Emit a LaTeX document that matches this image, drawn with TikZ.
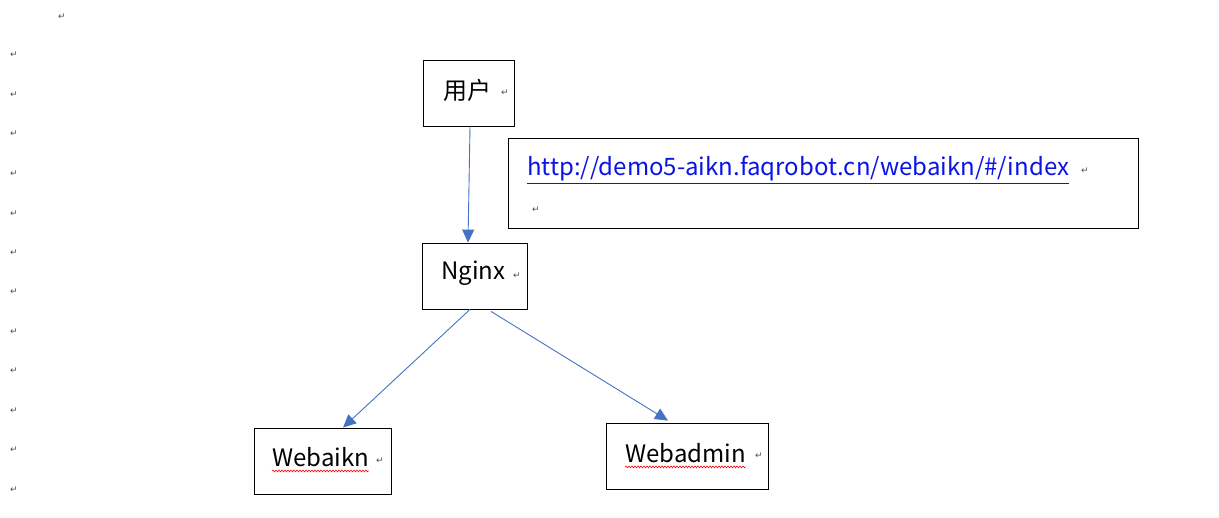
\documentclass[tikz,border=0pt]{standalone}
\usepackage{fontspec}
\setmainfont{Noto Sans CJK SC}
\newfontfamily\symf{DejaVu Sans}
\usetikzlibrary{calc,arrows.meta,decorations.pathmorphing}
\definecolor{arr}{RGB}{68,114,196}
\definecolor{lnk}{RGB}{10,20,230}
\begin{document}
\begin{tikzpicture}[x=1pt,y=-1pt,
  box/.style={draw,line width=0.8pt,inner sep=0pt},
  lab/.style={font=\fontsize{24}{26}\selectfont,inner sep=0pt,anchor=west},
  ret/.style={font=\symf\fontsize{9}{10}\selectfont,text=black!70,inner sep=0pt},
  conn/.style={draw=arr,line width=0.9pt,-{Triangle[length=13pt,width=12pt]}}]
\useasboundingbox (0,0) rectangle (1219,518);
\node[box,minimum width=91pt,minimum height=66pt] (u) at (468.5,93) {};
\node[box,minimum width=630pt,minimum height=90pt] (url) at (823,183) {};
\node[box,minimum width=105pt,minimum height=66pt] (n) at (474.5,276) {};
\node[box,minimum width=137pt,minimum height=66pt] (wk) at (322.5,461) {};
\node[box,minimum width=162pt,minimum height=66pt] (wa) at (687,456) {};
\node[lab] (tu) at (443,90) {用户};
\node[lab,text=lnk] (turl) at (527,170) {\underline{http://demo5-aikn.faqrobot.cn/webaikn/\#/index}};
\node[lab] (tn) at (441,273) {Nginx};
\node[lab] (twk) at (272,457) {Webaikn};
\node[lab] (twa) at (625,453) {Webadmin};
\draw[red,line width=0.6pt,decorate,decoration={snake,amplitude=0.9pt,segment length=3pt}] ($(twk.south west)+(0,4)$) -- ($(twk.south east)+(0,4)$);
\draw[red,line width=0.6pt,decorate,decoration={snake,amplitude=0.9pt,segment length=3pt}] ($(twa.south west)+(0,4)$) -- ($(twa.south east)+(0,4)$);
\draw[conn] ($(u.south)+(1.5,0)$) -- ($(n.north)+(-6.5,0)$);
\draw[conn] ($(n.south)+(-4.5,0)$) -- ($(wk.north)+(20.5,0)$);
\draw[conn] ($(n.south)+(16.5,2)$) -- ($(wa.north)+(-19,-2)$);
\node[ret] (r1) at (505,93) {↵};
\node[ret] (r2) at (1085,171) {↵};
\node[ret] (r3) at (536,210) {↵};
\node[ret] (r4) at (517,276) {↵};
\node[ret] (r5) at (380,461) {↵};
\node[ret] (r6) at (759,456) {↵};
\node[ret] (r0) at (62,17) {↵};
\foreach \y [count=\i] in {55,95,134,174,214,253,292,332,371,411,450,490}
  \node[ret] (l\i) at (14,\y) {↵};
\end{tikzpicture}
\end{document}
